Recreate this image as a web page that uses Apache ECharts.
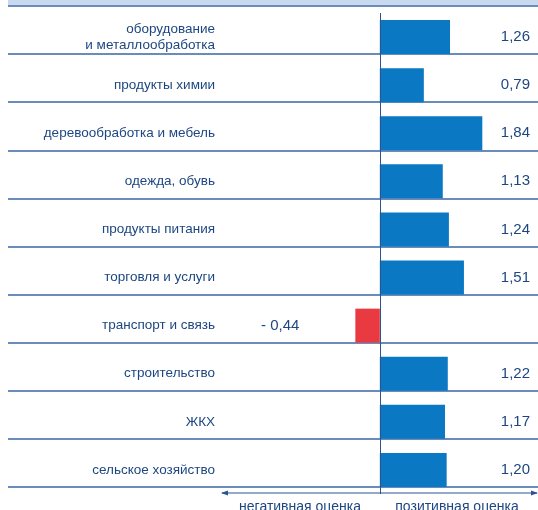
<!DOCTYPE html>
<html>
<head>
<meta charset="utf-8">
<script src="https://cdn.jsdelivr.net/npm/echarts@6/dist/echarts.min.js"></script>
<style>
  html, body { margin: 0; padding: 0; background: #fff; }
  #chart { width: 538px; height: 510px; }
</style>
</head>
<body>
<div id="chart"></div>
<script>
// отрасли и оценки
var categories = [
  'оборудование\nи металлообработка',
  'продукты химии',
  'деревообработка и мебель',
  'одежда, обувь',
  'продукты питания',
  'торговля и услуги',
  'транспорт и связь',
  'строительство',
  'ЖКХ',
  'сельское хозяйство'
];
var values = [1.26, 0.79, 1.84, 1.13, 1.24, 1.51, -0.44, 1.22, 1.17, 1.20];
var bottomLabels = ['негативная оценка', 'позитивная оценка'];

var blue = '#0a78c2', red = '#e83a40', textColor = '#1d4682';
var font = '"Liberation Sans", Arial, sans-serif';

function fmt(v) {
  var s = Math.abs(v).toFixed(2).replace('.', ',');
  return v < 0 ? '- ' + s : s;
}

var chart = echarts.init(document.getElementById('chart'));
var option = {
  animation: false,
  textStyle: { fontFamily: font },
  grid: [
    // сетка только для разделителей строк
    { left: 8, right: 0, top: 6, height: 481 },
    // бары смещены вниз внутри строки
    { left: 215, right: 0, top: 13, height: 481 }
  ],
  xAxis: [
    { gridIndex: 0, type: 'value', show: false, min: 0, max: 1 },
    { gridIndex: 1, type: 'value', min: -2.96, max: 2.84,
      axisLine: { show: false }, axisTick: { show: false },
      axisLabel: { show: false }, splitLine: { show: false } }
  ],
  yAxis: [
    { gridIndex: 0, type: 'category', inverse: true, data: categories,
      axisLine: { show: false }, axisTick: { show: false }, axisLabel: { show: false },
      splitLine: { show: true, lineStyle: { color: '#6a8cba', width: 2 } } },
    { gridIndex: 1, type: 'category', inverse: true, data: categories,
      axisLine: { show: false }, axisTick: { show: false },
      axisLabel: { color: textColor, fontSize: 13.5, fontFamily: font, align: 'right',
        margin: 0, lineHeight: 16 } },
    { gridIndex: 1, type: 'category', inverse: true, position: 'right',
      data: values.map(function (v) { return v < 0 ? '' : fmt(v); }),
      axisLine: { show: false }, axisTick: { show: false },
      axisLabel: { color: textColor, fontSize: 15, fontFamily: font, align: 'right', margin: -8 } }
  ],
  series: [{
    type: 'bar',
    xAxisIndex: 1,
    yAxisIndex: 1,
    barWidth: 34,
    data: values.map(function (v) {
      return {
        value: v,
        itemStyle: { color: v < 0 ? red : blue },
        label: v < 0 ? { show: true, position: 'left', distance: 56, formatter: fmt(v),
          color: textColor, fontSize: 15, fontFamily: font } : { show: false }
      };
    }),
    markLine: {
      silent: true, symbol: 'none', label: { show: false },
      lineStyle: { color: '#2a5590', width: 1, type: 'solid' },
      data: [{ xAxis: 0 }]
    }
  }],
  graphic: [
    { type: 'rect', shape: { x: 8, y: 0, width: 530, height: 6 },
      style: { fill: '#c8d9f0' } },
    { type: 'line', shape: { x1: 222, y1: 493, x2: 537, y2: 493 },
      style: { stroke: '#2a5590', lineWidth: 1 } },
    { type: 'polygon', shape: { points: [[221, 493], [228, 490.5], [228, 495.5]] },
      style: { fill: '#2a5590' } },
    { type: 'polygon', shape: { points: [[538, 493], [531, 490.5], [531, 495.5]] },
      style: { fill: '#2a5590' } },
    { type: 'text', x: 300, y: 500,
      style: { text: bottomLabels[0], fill: textColor, font: '14px ' + font, textAlign: 'center' } },
    { type: 'text', x: 457, y: 500,
      style: { text: bottomLabels[1], fill: textColor, font: '14px ' + font, textAlign: 'center' } }
  ]
};
chart.setOption(option);
</script>
</body>
</html>
